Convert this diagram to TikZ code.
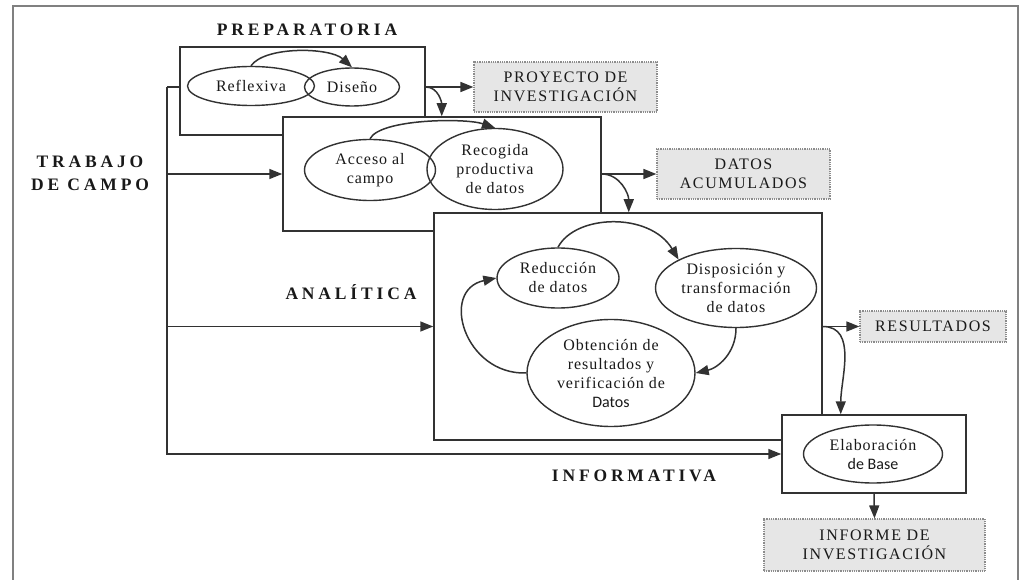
\documentclass[tikz,border=0pt]{standalone}
\usepackage{fontspec}
\setmainfont{Liberation Serif}
\newfontfamily\phasefont[LetterSpace=22]{Liberation Serif}
\newfontfamily\outfont[LetterSpace=10]{Liberation Serif}
\newfontfamily\stagefont[LetterSpace=6]{Liberation Serif}
\newfontfamily\basefont{Carlito}
\usepackage{xcolor}
\usetikzlibrary{shapes.geometric,arrows.meta,positioning,calc}
\definecolor{linecolor}{RGB}{50,50,50}
\definecolor{framecolor}{RGB}{128,128,128}
\definecolor{outfill}{RGB}{230,230,230}
\definecolor{outborder}{RGB}{140,140,140}
\definecolor{txtcolor}{RGB}{25,25,25}

\begin{document}
\begin{tikzpicture}[
    x=1pt, y=-1pt,
    phase/.style={rectangle, draw=linecolor, fill=white, line width=1.5pt, inner sep=0pt},
    stage/.style={ellipse, draw=linecolor, line width=1.4pt, inner sep=0pt, align=center, text=txtcolor, font={\stagefont\fontsize{16}{19}\selectfont}},
    output/.style={rectangle, draw=outborder, fill=outfill, line width=1.2pt, dash pattern=on 1pt off 0.8pt, inner sep=0pt, align=center, text=txtcolor, font={\outfont\fontsize{16}{19}\selectfont}},
    title/.style={align=center, text=txtcolor, font={\phasefont\bfseries\fontsize{17.5}{23}\selectfont}},
    arrow/.style={-{Triangle[length=13pt,width=10pt]}, draw=linecolor, line width=1.5pt},
    link/.style={draw=linecolor, line width=1.5pt}
]
\useasboundingbox (0,0) rectangle (1021,580);
\draw[framecolor, line width=2pt] (13,580) -- (13,6) -- (1018,6) -- (1018,580);

\node[title] (tprep) at (307,30) {PREPARATORIA};
\node[title] (tcampo) at (90,173) {TRABAJO\\DE CAMPO};
\node[title] (tanal) at (351,292) {ANAL\'ITICA};
\node[title] (tinfo) at (634,476) {INFORMATIVA};

\node[phase, minimum width=245, minimum height=88] (prep) at (302.5,91) {};
\node[stage, minimum width=127, minimum height=39] (refl) at (251,86) {Reflexiva};
\node[stage, minimum width=95, minimum height=38] (dis) at (352,87) {Diseño};

\node[phase, minimum width=318, minimum height=114] (campo) at (442,174) {};
\node[stage, minimum width=131, minimum height=61] (acc) at (370,170) {Acceso al\\campo};
\node[stage, minimum width=136, minimum height=81] (rec) at (495,169) {Recogida\\productiva\\de datos};

\node[phase, minimum width=388, minimum height=227] (anal) at (628,326.5) {};
\node[stage, minimum width=122, minimum height=60] (red) at (558,278) {Reducción\\de datos};
\node[stage, minimum width=161, minimum height=79] (disp) at (736,288) {Disposición y\\transformación\\de datos};
\node[stage, minimum width=168, minimum height=107] (obt) at (611,373) {Obtención de\\resultados y\\verificación de\\{\basefont Datos}};

\node[phase, minimum width=184, minimum height=78] (info) at (874,454) {};
\node[stage, minimum width=139, minimum height=58] (elab) at (873,454) {Elaboración\\{\basefont de Base}};

\node[output, minimum width=183, minimum height=50] (proy) at (565.5,87) {PROYECTO DE\\INVESTIGACIÓN};
\node[output, minimum width=173, minimum height=50] (datos) at (743.5,174) {DATOS\\ACUMULADOS};
\node[output, minimum width=146, minimum height=31] (res) at (933,326.5) {RESULTADOS};
\node[output, minimum width=221, minimum height=52] (inf) at (874.5,545) {INFORME DE\\INVESTIGACIÓN};

\draw[arrow] (refl.north) .. controls +(14,-20) and +(-22,-20) .. (dis.north);
\draw[arrow] (acc.north) .. controls +(10,-20) and +(-30,-10) .. (rec.north);
\draw[arrow] (red.north) .. controls +(17,-33) and +(-29,-48) .. (disp.north west);
\draw[arrow] (disp.south) .. controls +(0,25) and +(22,-5) .. (obt.east);
\draw[arrow] (obt.west) .. controls +(-62,2) and +(-57,12) .. (red.west);

\draw[arrow] (prep.east |- proy.west) -- (proy.west);
\draw[arrow] (prep.east |- proy.west) to[out=0,in=90] ($(prep.east |- campo.north)+(16,0)$);
\draw[arrow] (campo.east) -- (datos.west);
\draw[arrow] (campo.east) to[out=0,in=90] ($(campo.east |- anal.north)+(27,0)$);
\draw[arrow] (anal.east) -- (res.west);
\draw[arrow] (anal.east) to[out=0,in=90] ($(anal.east |- info.north)+(18,0)$);
\draw[arrow] (info.south) -- (inf.north);

\coordinate (spine) at (167,87);
\draw[link] (prep.west |- proy.west) -- (spine);
\draw[arrow] (spine) |- (info.west);
\draw[arrow] (spine |- campo.west) -- (campo.west);
\draw[arrow] (spine |- anal.west) -- (anal.west);
\end{tikzpicture}
\end{document}
